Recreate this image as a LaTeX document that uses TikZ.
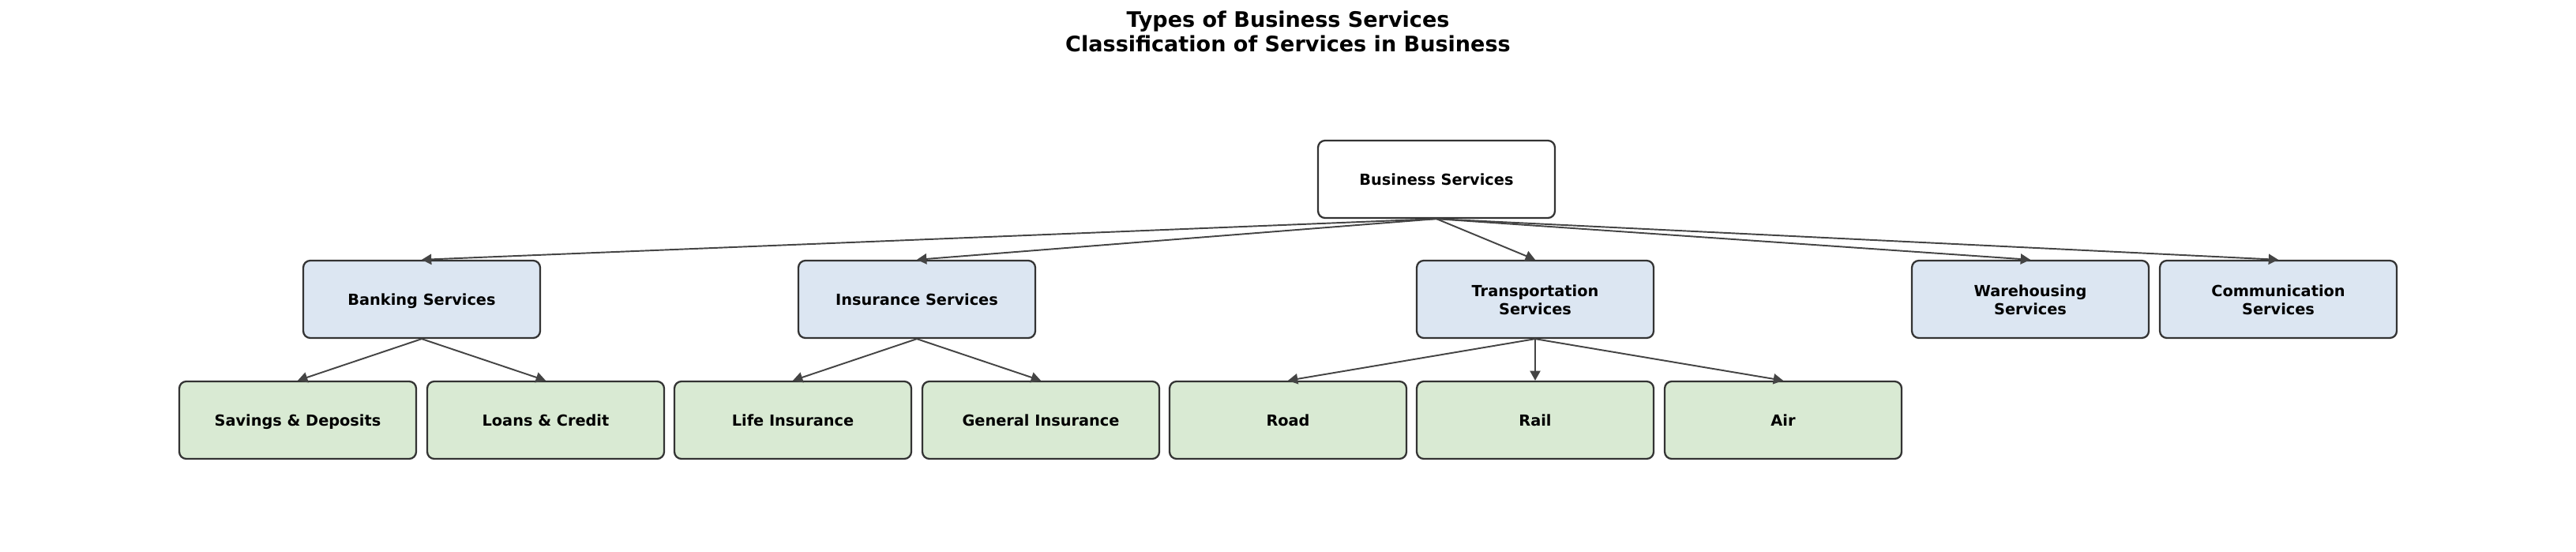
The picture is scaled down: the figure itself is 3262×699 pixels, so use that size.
\documentclass[tikz,border=0pt]{standalone}
\usepackage{fontspec}
\setmainfont{DejaVu Sans}
\usetikzlibrary{arrows.meta,positioning}

\definecolor{catblue}{HTML}{DCE6F2}
\definecolor{itemgreen}{HTML}{D9EAD3}
\definecolor{framegray}{HTML}{333333}
\definecolor{linkgray}{HTML}{444444}

% keeps the text line a little under the box middle
\newcommand{\lowstrut}{\rule[-2.6pt]{0pt}{14.2pt}}
\newcommand{\topstrut}{\rule{0pt}{9.4pt}}

\tikzset{
  box/.style={draw=framegray, line width=1.3pt, rounded corners=5pt,
    minimum width=6cm, minimum height=1.96cm, align=center,
    font=\fontsize{11}{13}\selectfont\bfseries},
  rootbox/.style={box, fill=white},
  catbox/.style={box, fill=catblue},
  itembox/.style={box, fill=itemgreen},
  link/.style={-{Triangle[length=7pt,width=7.5pt]}, draw=linkgray, line width=1.1pt},
}

\begin{document}
\begin{tikzpicture}[x=0.02cm,y=-0.02cm]
  \useasboundingbox (0,0) rectangle (3262,699);
  \node[align=center, font=\fontsize{15.4}{17.5}\selectfont\bfseries] (title) at (1631,40)
    {Types of Business Services\\Classification of Services in Business};

  % top
  \node[rootbox] (business) at (1819,227) {\lowstrut Business Services};

  % categories
  \node[catbox] (banking)   at (534,379)  {\lowstrut Banking Services};
  \node[catbox] (insurance) at (1161,379) {\lowstrut Insurance Services};
  \node[catbox] (transport) at (1944,379) {\topstrut Transportation\\Services};
  \node[catbox] (warehouse) at (2571,379) {\topstrut Warehousing\\Services};
  \node[catbox] (comm)      at (2885,379) {\topstrut Communication\\Services};

  % items
  \node[itembox] (savings) at (377,532)  {\lowstrut Savings \& Deposits};
  \node[itembox] (loans)   at (691,532)  {\lowstrut Loans \& Credit};
  \node[itembox] (life)    at (1004,532) {\lowstrut Life Insurance};
  \node[itembox] (general) at (1318,532) {\lowstrut General Insurance};
  \node[itembox] (road)    at (1631,532) {\lowstrut Road};
  \node[itembox] (rail)    at (1944,532) {\lowstrut Rail};
  \node[itembox] (air)     at (2258,532) {\lowstrut Air};

  \foreach \c in {banking,insurance,transport,warehouse,comm}
    \draw[link] (business.south) -- (\c.north);
  \foreach \p/\c in {banking/savings,banking/loans,insurance/life,insurance/general,
                     transport/road,transport/rail,transport/air}
    \draw[link] (\p.south) -- (\c.north);
\end{tikzpicture}
\end{document}
